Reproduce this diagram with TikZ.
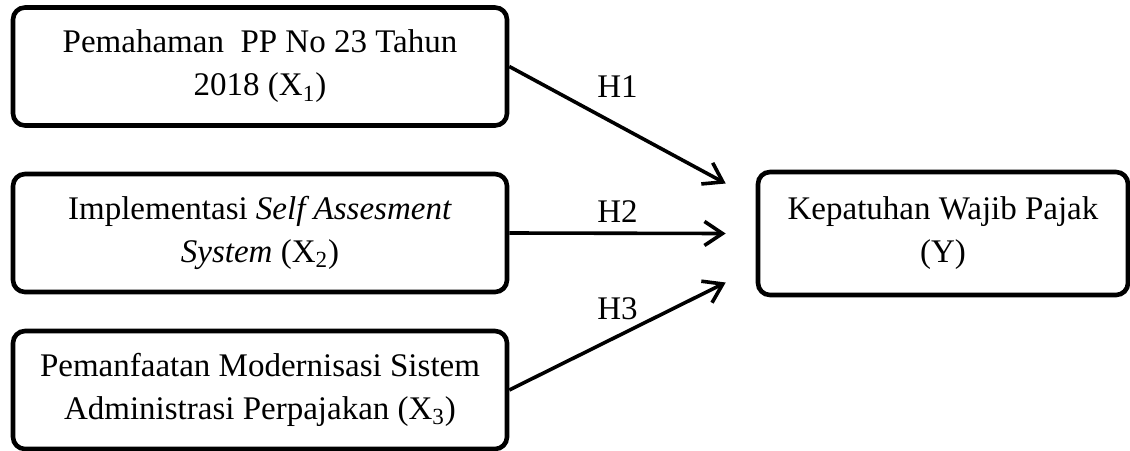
\documentclass[tikz,border=0pt]{standalone}
\usepackage{fontspec}
\setmainfont{Liberation Serif}
\usetikzlibrary{arrows.meta, positioning}
\tikzset{
  var/.style={
    rectangle, rounded corners=6pt, draw=black, line width=2.3pt,
    align=center, inner sep=2pt,
    font=\fontsize{16.5pt}{21.5pt}\selectfont},
  indep/.style={var, minimum width=247pt, minimum height=59pt},
  dep/.style  ={var, minimum width=185pt, minimum height=61.5pt},
  hypo/.style ={-{Straight Barb[length=9pt, width=12pt, line width=1.8pt]},
                line width=1.8pt, draw=black},
  hlabel/.style={font=\fontsize{16.5pt}{21pt}\selectfont},
}
\begin{document}
\begin{tikzpicture}[x=0.5pt, y=-0.5pt]
\useasboundingbox (0,0) rectangle (1130,450);

% ---- independent variables ----
\node[indep] (x1) at (260,66.5) {Pemahaman\ \ PP No 23 Tahun\\2018 (X\textsubscript{1})};
\node[indep] (x2) at (260,233)  {Implementasi \textit{Self Assesment}\\\textit{System} (X\textsubscript{2})};
\node[indep] (x3) at (260,390)  {Pemanfaatan Modernisasi Sistem\\Administrasi Perpajakan (X\textsubscript{3})};

% ---- dependent variable ----
\node[dep] (ky) at (943,233.5) {Kepatuhan Wajib Pajak\\(Y)};

% ---- hypotheses ----
\coordinate (h1) at ([shift={(-30,-50)}]ky.west);
\coordinate (h2) at ([shift={(-30,0)}]ky.west);
\coordinate (h3) at ([shift={(-30,49)}]ky.west);
\draw[hypo] (x1.east) -- node[hlabel, above=9.5pt] (lh1) {H1} (h1);
\draw[hypo] (x2.east) -- node[hlabel, above=1pt] (lh2) {H2} (h2);
\draw[hypo] (x3.east) -- node[hlabel, above=4pt] (lh3) {H3} (h3);

\end{tikzpicture}
\end{document}
